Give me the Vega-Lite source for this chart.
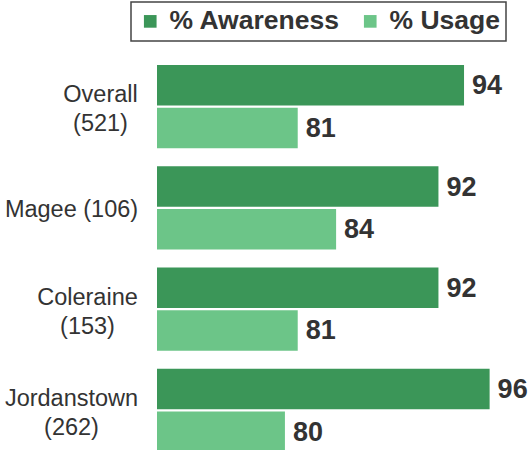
{
  "$schema": "https://vega.github.io/schema/vega-lite/v6.json",
  "autosize": "none",
  "padding": {"left": 157, "top": 56, "right": 0, "bottom": 0},
  "width": 371,
  "height": 405,
  "config": {
    "view": {"stroke": null},
    "font": "Liberation Sans"
  },
  "data": {
    "values": [
      {"group": "Overall|(521)", "series": "% Awareness", "value": 94},
      {"group": "Overall|(521)", "series": "% Usage", "value": 81},
      {"group": "Magee (106)", "series": "% Awareness", "value": 92},
      {"group": "Magee (106)", "series": "% Usage", "value": 84},
      {"group": "Coleraine|(153)", "series": "% Awareness", "value": 92},
      {"group": "Coleraine|(153)", "series": "% Usage", "value": 81},
      {"group": "Jordanstown|(262)", "series": "% Awareness", "value": 96},
      {"group": "Jordanstown|(262)", "series": "% Usage", "value": 80}
    ]
  },
  "encoding": {
    "y": {
      "field": "group",
      "type": "nominal",
      "sort": null,
      "scale": {"paddingInner": 0.18, "paddingOuter": 0.09},
      "axis": {
        "title": null,
        "domain": false,
        "ticks": false,
        "labelExpr": "split(datum.label, '|')",
        "labelFont": "Liberation Sans",
        "labelFontSize": 23.5,
        "labelColor": "#333333",
        "labelLineHeight": 29,
        "labelAlign": "center",
        "labelBaseline": "middle",
        "labelLimit": 0,
        "labelOffset": {
          "condition": {"test": "datum.value === 'Magee (106)'", "value": 2},
          "value": -11.5
        },
        "labelPadding": {
          "condition": [
            {"test": "datum.value === 'Overall|(521)'", "value": 57},
            {"test": "datum.value === 'Coleraine|(153)'", "value": 70}
          ],
          "value": 86
        }
      }
    },
    "yOffset": {
      "field": "series",
      "type": "nominal",
      "sort": ["% Awareness", "% Usage"],
      "scale": {"paddingInner": 0.05, "paddingOuter": 0}
    },
    "x": {
      "field": "value",
      "type": "quantitative",
      "scale": {"domain": [70, 99], "zero": false, "clamp": true, "nice": false},
      "axis": null
    }
  },
  "layer": [
    {
      "mark": {"type": "bar"},
      "encoding": {
        "color": {
          "field": "series",
          "type": "nominal",
          "scale": {"domain": ["% Awareness", "% Usage"], "range": ["#3b9658", "#6cc588"]},
          "legend": {
            "title": null,
            "orient": "none",
            "direction": "horizontal",
            "legendX": -26,
            "legendY": -54,
            "symbolType": "square",
            "symbolSize": 160,
            "symbolStrokeWidth": 0,
            "labelFont": "Liberation Sans",
            "labelFontSize": 26.5,
            "labelFontWeight": "bold",
            "labelColor": "#333333",
            "labelLimit": 0,
            "labelOffset": 6,
            "columnPadding": 17,
            "padding": 6,
            "strokeColor": "#444444",
            "encode": {"legend": {"update": {"strokeWidth": {"value": 1.5}}}}
          }
        }
      }
    },
    {
      "mark": {"type": "text", "align": "left", "baseline": "middle", "dx": 8, "dy": 1, "font": "Liberation Sans", "fontSize": 27, "fontWeight": "bold", "color": "#333333"},
      "encoding": {
        "text": {"field": "value", "type": "quantitative"}
      }
    }
  ]
}
